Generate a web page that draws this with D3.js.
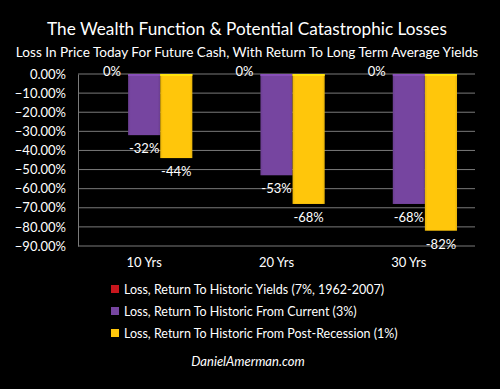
<!DOCTYPE html>
<html>
<head>
<meta charset="utf-8">
<script src="https://cdn.jsdelivr.net/npm/d3@7"></script>
<style>
  body { margin: 0; background: #000; }
  svg { display: block; font-family: Lato, "Open Sans", sans-serif; }
</style>
</head>
<body>
<script>
var categories = ["10 Yrs", "20 Yrs", "30 Yrs"];
var seriesNames = [
    "Loss, Return To Historic Yields (7%, 1962-2007)",
    "Loss, Return To Historic From Current (3%)",
    "Loss, Return To Historic From Post-Recession (1%)"
];
var historic = [0, 0, 0];
var fromCurrent = [-32, -53, -68];
var fromPostRecession = [-44, -68, -82];
var yTicks = [0, -10, -20, -30, -40, -50, -60, -70, -80, -90];
var colors = ["#c8161d", "#7645a0", "#ffc60b"];

var width = 500,
    height = 389;

var allSeries = [historic, fromCurrent, fromPostRecession];

var svg = d3.select("body").append("svg")
    .attr("width", width)
    .attr("height", height);

svg.append("rect").attr("width", width).attr("height", height).attr("fill", "#000");

// titles
svg.append("text")
    .attr("x", 247).attr("y", 35)
    .attr("text-anchor", "middle")
    .attr("fill", "#fff")
    .style("font-size", "17.2px")
    .text("The Wealth Function & Potential Catastrophic Losses");
svg.append("text")
    .attr("x", 247).attr("y", 57)
    .attr("text-anchor", "middle")
    .attr("fill", "#fff")
    .style("font-size", "13.6px")
    .text("Loss In Price Today For Future Cash, With Return To Long Term Average Yields");

var x = d3.scaleBand().domain(categories).range([78, 475]);
var xs = d3.scaleBand().domain(d3.range(3)).range([0, x.bandwidth()]).paddingInner(0).paddingOuter(0.56);
var y = d3.scaleLinear().domain([0, -90]).range([74, 246]);

// gridlines
svg.append("g").selectAll("line")
    .data(yTicks)
    .enter().append("line")
    .attr("x1", 78).attr("x2", 475)
    .attr("y1", function(d) { return y(d); })
    .attr("y2", function(d) { return y(d); })
    .attr("stroke", "#7a7a7a")
    .attr("stroke-width", 1);

var yAxis = svg.append("g")
    .attr("transform", "translate(78,0)")
    .call(d3.axisLeft(y).tickValues(yTicks).tickSize(0).tickPadding(12)
        .tickFormat(function(d) { return d3.format(".2f")(d) + "%"; }));
yAxis.select(".domain").attr("stroke", "#7a7a7a");
yAxis.selectAll("text").attr("fill", "#fff").style("font-size", "13px").style("font-family", "Lato, sans-serif");

var xAxis = svg.append("g")
    .attr("transform", "translate(0,246)")
    .call(d3.axisBottom(x).tickSize(0).tickPadding(12));
xAxis.select(".domain").remove();
xAxis.selectAll("text").attr("fill", "#fff").style("font-size", "13px").style("font-family", "Lato, sans-serif");

// gradients for slight bevel
var defs = svg.append("defs");
colors.forEach(function(c, i) {
    var g = defs.append("linearGradient").attr("id", "g" + i)
        .attr("x1", 0).attr("x2", 1).attr("y1", 0).attr("y2", 0);
    g.append("stop").attr("offset", "0%").attr("stop-color", d3.color(c).darker(0.3));
    g.append("stop").attr("offset", "8%").attr("stop-color", c);
    g.append("stop").attr("offset", "92%").attr("stop-color", c);
    g.append("stop").attr("offset", "100%").attr("stop-color", d3.color(c).darker(0.3));
});

var groups = svg.append("g").selectAll("g")
    .data(categories)
    .enter().append("g")
    .attr("transform", function(d) { return "translate(" + x(d) + ",0)"; });

groups.each(function(cat, ci) {
    var g = d3.select(this);
    allSeries.forEach(function(s, si) {
        var v = s[ci];
        var bx = xs(si), bw = xs.bandwidth();
        if (v < 0) {
            g.append("rect")
                .attr("x", bx).attr("y", y(0))
                .attr("width", bw).attr("height", y(v) - y(0))
                .attr("fill", "url(#g" + si + ")");
            g.append("rect")
                .attr("x", bx).attr("y", y(0))
                .attr("width", bw).attr("height", 2)
                .attr("fill", d3.color(colors[si]).brighter(0.4));
            g.append("text")
                .attr("x", bx + bw / 2).attr("y", y(v) + 18)
                .attr("text-anchor", "middle")
                .attr("fill", "#fff")
                .style("font-size", "13px")
                .text(v + "%");
        } else {
            g.append("text")
                .attr("x", bx + bw / 2).attr("y", y(0) + 2)
                .attr("text-anchor", "middle")
                .attr("fill", "#fff")
                .style("font-size", "13px")
                .text(v + "%");
        }
    });
});

// legend
var legend = svg.append("g").selectAll("g")
    .data(seriesNames)
    .enter().append("g")
    .attr("transform", function(d, i) { return "translate(111," + (285 + i * 22) + ")"; });
legend.append("rect")
    .attr("width", 8).attr("height", 8)
    .attr("fill", function(d, i) { return colors[i]; });
legend.append("text")
    .attr("x", 13).attr("y", 8.5)
    .attr("fill", "#fff")
    .style("font-size", "12.5px")
    .text(function(d) { return d; });

svg.append("text")
    .attr("x", 248).attr("y", 366)
    .attr("text-anchor", "middle")
    .attr("fill", "#fff")
    .style("font-size", "13px")
    .style("font-style", "italic")
    .text("DanielAmerman.com");
</script>
</body>
</html>
